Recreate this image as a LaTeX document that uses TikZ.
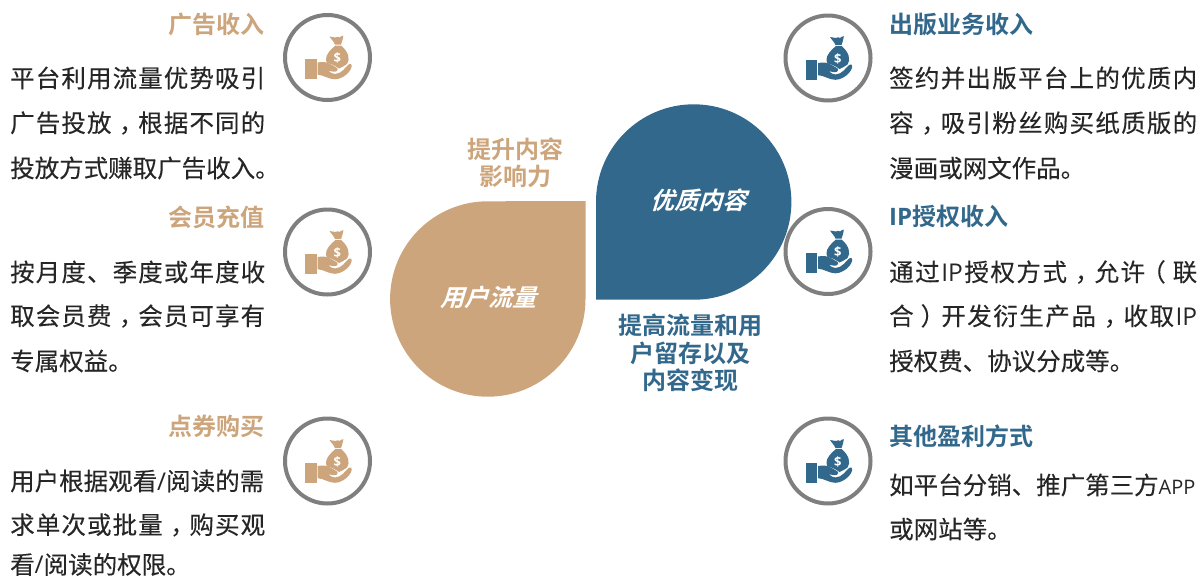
\documentclass[tikz,border=0pt]{standalone}
\usepackage{fontspec}
\setmainfont{Noto Sans CJK SC}[FakeBold=0.2]
\newfontfamily\cjkbold{Noto Sans CJK SC Bold}
\newfontfamily\cjkslant[FakeSlant=0.3]{Noto Sans CJK SC Bold}
\newfontfamily\lat{Open Sans}
\definecolor{tanc}{HTML}{CDA57C}
\definecolor{bluec}{HTML}{32688B}
\definecolor{ringc}{HTML}{7F7F7F}
\definecolor{bodyc}{HTML}{262626}
\makeatletter
\newcommand\spr[2]{\hbox to #1pt{\@tfor\xx:=#2\do{\xx\hfil}\unskip}}
\makeatother
\newcommand\zc{\kern.26em，\kern-.26em}
\newcommand\zl{\kern-.22em（\kern.22em}
\newcommand\zr{\kern.22em）\kern-.22em}
\newcommand\moneyicon[2]{%
\begin{scope}[shift={(#1)}]
\draw[ringc,line width=4pt,fill=white] (0,0) circle (42.5);
% cuff
\fill[#2] (-22.5,1.5) rectangle (-10.8,21.5);
% hand
\fill[#2] (-9.8,4.8) -- (-3,4.6) .. controls (0,5) and (4,7) .. (7.5,9.2)
 .. controls (9,10) and (10.5,10.8) .. (10.2,12) .. controls (10,14) and (8,14.4) .. (6,14.2)
 .. controls (4,14) and (2.5,13.6) .. (0.8,13.2) .. controls (3,15.2) and (5,16.5) .. (7.5,16.5)
 .. controls (11,16.5) and (13.5,14.5) .. (15.8,12.5) .. controls (18,10.5) and (20,7.5) .. (21.8,6.5)
 .. controls (23.5,6) and (24.8,7) .. (24.2,9) .. controls (23.5,13) and (19.5,17) .. (15.8,19.2)
 .. controls (13,21) and (10,21.8) .. (7.5,21.8) .. controls (4.5,21.8) and (1.5,20.8) .. (-0.8,19.8)
 .. controls (-4,18.4) and (-7,17.4) .. (-9.8,17.2) -- cycle;
% bag
\fill[#2] (8,-12) .. controls (3,-8) and (-1.5,-3) .. (-1.5,1.5) .. controls (-1.5,3) and (-1,5) .. (-0.5,5.5)
 .. controls (3,6) and (6,7.5) .. (8.5,9) .. controls (10,10) and (11,10.5) .. (11.5,11)
 .. controls (14,10) and (17,8.5) .. (19.5,6.5)
 .. controls (23,2) and (21,-6) .. (13.5,-12) -- cycle;
\fill[#2] (7.5,-12.8) .. controls (6.5,-16) and (3,-19) .. (2,-21) .. controls (4,-21.5) and (6,-19.5) .. (8,-20)
 .. controls (10,-22) and (10.5,-20) .. (12,-20) .. controls (13,-20.5) and (15,-22.5) .. (15.8,-21.8)
 .. controls (15.5,-18) and (14,-15) .. (13.5,-12.8) -- cycle;
\node[white,inner sep=0pt,font=\lat\bfseries\fontsize{13}{13}\selectfont] at (9.8,0.5) {\$};
\end{scope}}
\tikzset{
 x=1pt,y=-1pt,
 titlel/.style={font=\cjkbold\fontsize{24}{26}\selectfont,text=tanc,inner sep=0pt,anchor=east},
 titler/.style={font=\cjkbold\fontsize{24}{26}\selectfont,text=bluec,inner sep=0pt,anchor=west},
 bodyt/.style={font=\fontsize{24.5}{28}\selectfont,text=bodyc,inner sep=0pt,anchor=west},
 mid/.style={font=\cjkbold\fontsize{24}{27.5}\selectfont,inner sep=0pt,align=center},
 drop/.style={font=\cjkslant\fontsize{24}{28}\selectfont,text=white,inner sep=0pt},
}
\begin{document}
\begin{tikzpicture}
\useasboundingbox (0,0) rectangle (1202,579);
\fill[tanc] (585.5,201) -- (585.5,299) arc[start angle=0,end angle=270,radius=97.7] -- cycle;
\fill[bluec] (596,299.5) -- (596,202) arc[start angle=180,end angle=450,radius=97.7] -- cycle;
\node[drop] (yonghu) at (488,297) {用户流量};
\node[drop] (youzhi) at (698,200) {优质内容};
\node[mid,text=tanc] (tisheng) at (515,163) {提升内容\\[-1pt]影响力};
\node[mid,text=bluec] (tigao) at (690,353) {提高流量和用\\户留存以及\\内容变现};
\moneyicon{327.5,57.5}{tanc}
\moneyicon{327.5,252}{tanc}
\moneyicon{327.5,461}{tanc}
\moneyicon{828,58}{bluec}
\moneyicon{828,251.5}{bluec}
\moneyicon{828,461}{bluec}
\node[titlel] (t1) at (265,24) {广告收入};
\node[titlel] (t2) at (265,217) {会员充值};
\node[titlel] (t3) at (265,426) {点券购买};
\node[titler] (t4) at (889,24) {出版业务收入};
\node[titler] (t5) at (889,216) {{\lat\bfseries IP}授权收入};
\node[titler] (t6) at (889,436) {其他盈利方式};
\node[bodyt] (a1) at (10,78) {\spr{255}{平台利用流量优势吸引}};
\node[bodyt] (a2) at (10,123) {\spr{255}{广告投放\zc 根据不同的}};
\node[bodyt] (a3) at (10,168) {投放方式赚取广告收入。};
\node[bodyt] (b1) at (10,272) {\spr{255}{按月度、季度或年度收}};
\node[bodyt] (b2) at (10,316) {\spr{255}{取会员费\zc 会员可享有}};
\node[bodyt] (b3) at (10,361) {专属权益。};
\node[bodyt] (c1) at (10,481) {用户根据观看{\lat /}阅读的需};
\node[bodyt] (c2) at (10,525) {\spr{255}{求单次或批量\zc 购买观}};
\node[bodyt] (c3) at (10,564.5) {看{\lat /}阅读的权限。};
\node[bodyt] (d1) at (889,78) {\spr{308}{签约并出版平台上的优质内}};
\node[bodyt] (d2) at (889,123) {\spr{308}{容\zc 吸引粉丝购买纸质版的}};
\node[bodyt] (d3) at (889,168) {漫画或网文作品。};
\node[bodyt] (e1) at (889,272) {\spr{308}{通过{{\lat IP}}授权方式\zc 允许\zl 联}};
\node[bodyt] (e2) at (889,316) {\spr{308}{合\zr 开发衍生产品\zc 收取{{\lat IP}}}};
\node[bodyt] (e3) at (889,361) {授权费、协议分成等。};
\node[bodyt] (f1) at (889,485) {如平台分销、推广第三方{\lat\fontsize{20}{24}\selectfont APP}};
\node[bodyt] (f2) at (889,529) {或网站等。};
\end{tikzpicture}
\end{document}
